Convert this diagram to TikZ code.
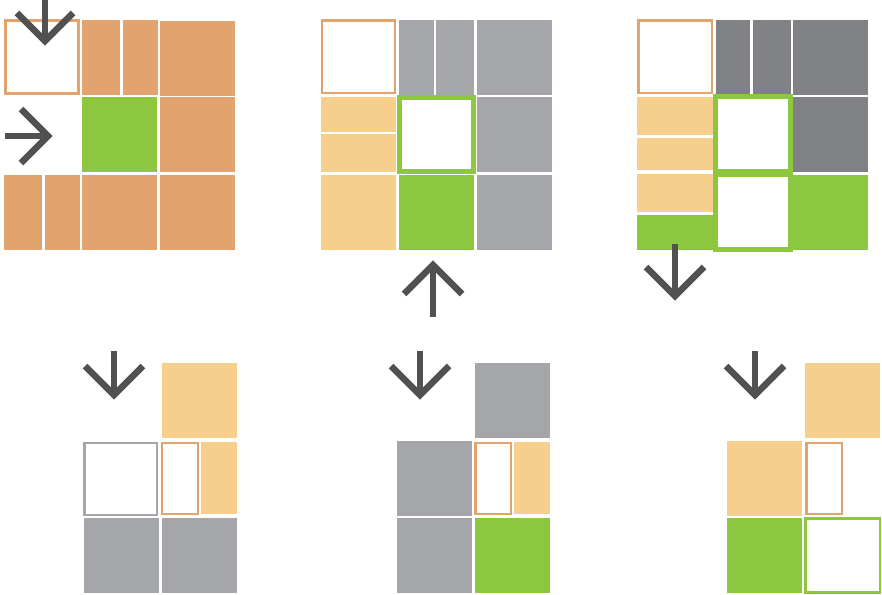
\documentclass[tikz,border=0pt]{standalone}
\definecolor{tan}{HTML}{E3A36E}
\definecolor{sand}{HTML}{F5CF8B}
\definecolor{lgray}{HTML}{A5A6A9}
\definecolor{dgray}{HTML}{808184}
\definecolor{leaf}{HTML}{8DC63F}
\definecolor{arrowc}{HTML}{515153}
\begin{document}
\begin{tikzpicture}[x=1pt,y=-1pt,
  arr/.style={draw=arrowc,line width=6.5pt,miter limit=10},
  tanbox/.style={draw=tan,line width=2.5pt},
  graybox/.style={draw=lgray,line width=2.5pt},
  leafbox/.style={draw=leaf,line width=2.5pt},
  leafthick/.style={draw=leaf,line width=5pt}]
\useasboundingbox[fill=white] (0,0) rectangle (882,594);
% ---------- Panel 1 ----------
\draw[tanbox] (5.5,20.5) rectangle (78.5,93.5);
\fill[tan] (82,20) rectangle (120,95);
\fill[tan] (123,20) rectangle (158,95);
\fill[tan] (160,21) rectangle (235,96);
\fill[leaf] (82,97) rectangle (157,172);
\fill[tan] (160,97) rectangle (235,172);
\fill[tan] (4,175) rectangle (42,250);
\fill[tan] (45,175) rectangle (80,250);
\fill[tan] (82,175) rectangle (157,250);
\fill[tan] (160,175) rectangle (235,250);
\draw[arr] (45,0) -- (45,41);
\draw[arr] (17,13) -- (45,41) -- (73,13);
\draw[arr] (5,136) -- (48,136);
\draw[arr] (21,109) -- (48,136) -- (21,163);
% ---------- Panel 2 ----------
\draw[tanbox] (322,20.5) rectangle (395,93);
\fill[lgray] (399,20) rectangle (434,95);
\fill[lgray] (436,20) rectangle (474,95);
\fill[lgray] (477,20) rectangle (552,95);
\fill[sand] (321,97) rectangle (396,132);
\fill[sand] (321,134) rectangle (396,172);
\draw[leafthick] (399.5,97.5) rectangle (473.5,171.5);
\fill[lgray] (477,97) rectangle (552,172);
\fill[sand] (321,175) rectangle (396,250);
\fill[leaf] (399,175) rectangle (474,250);
\fill[lgray] (477,175) rectangle (552,250);
\draw[arr] (433,317) -- (433,265);
\draw[arr] (404,294) -- (433,265) -- (462,294);
% ---------- Panel 3 ----------
\draw[tanbox] (638.5,20.5) rectangle (712,93);
\fill[dgray] (716,20) rectangle (750,95);
\fill[dgray] (753,20) rectangle (791,95);
\fill[dgray] (793,20) rectangle (868,95);
\fill[sand] (637,97) rectangle (713,135);
\fill[sand] (637,138) rectangle (713,170);
\fill[sand] (637,174) rectangle (713,212);
\fill[leaf] (637,215) rectangle (713,250);
\fill[leaf] (713,94) rectangle (793,252);
\fill[white] (718,99) rectangle (788,169);
\fill[white] (718,177) rectangle (788,247);
\fill[dgray] (793,97) rectangle (868,172);
\fill[leaf] (793,175) rectangle (868,250);
\draw[arr] (675,244) -- (675,296);
\draw[arr] (646,267) -- (675,296) -- (704,267);
% ---------- Bottom panel 1 ----------
\draw[arr] (114,351) -- (114,395);
\draw[arr] (85,366) -- (114,395) -- (143,366);
\fill[sand] (162,363) rectangle (237,438);
\draw[graybox] (84.5,443) rectangle (157,515);
\draw[tanbox] (162,443) rectangle (198,514);
\fill[sand] (201,442) rectangle (237,514);
\fill[lgray] (84,518) rectangle (159,593);
\fill[lgray] (162,518) rectangle (237,593);
% ---------- Bottom panel 2 ----------
\draw[arr] (420,351) -- (420,395);
\draw[arr] (391,366) -- (420,395) -- (449,366);
\fill[lgray] (475,363) rectangle (550,438);
\fill[lgray] (397,441) rectangle (472,516);
\draw[tanbox] (475.5,443) rectangle (511,514);
\fill[sand] (514,442) rectangle (550,514);
\fill[lgray] (397,518) rectangle (472,593);
\fill[leaf] (475,518) rectangle (550,593);
% ---------- Bottom panel 3 ----------
\draw[arr] (755,351) -- (755,395);
\draw[arr] (726,366) -- (755,395) -- (784,366);
\fill[sand] (805,363) rectangle (880,438);
\fill[sand] (727,441) rectangle (802,516);
\draw[tanbox] (806.5,443) rectangle (842,514);
\fill[leaf] (727,518) rectangle (802,593);
\draw[leafbox] (805.5,518.5) rectangle (880,592.5);
\end{tikzpicture}
\end{document}
